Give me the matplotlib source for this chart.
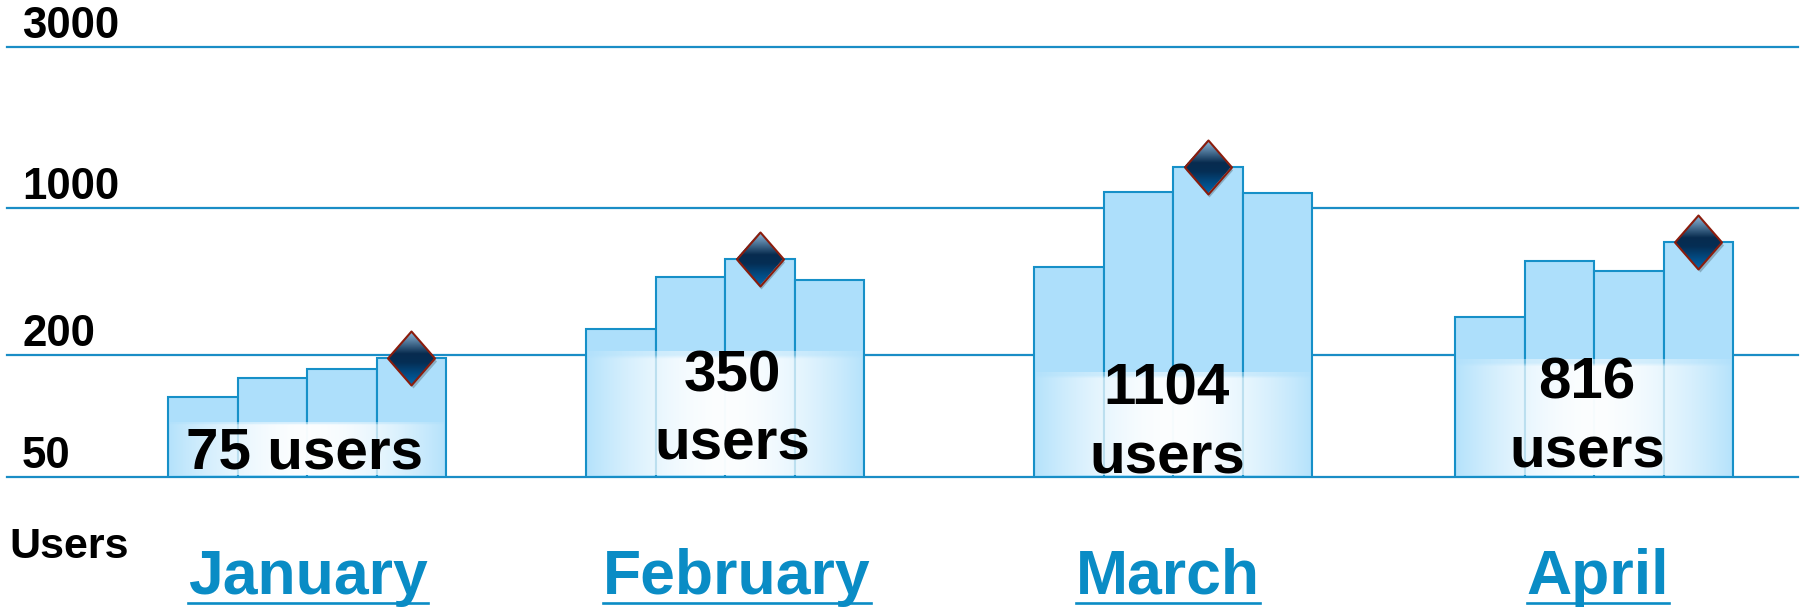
import numpy as np
import matplotlib
matplotlib.use('Agg')
import matplotlib.pyplot as plt
from matplotlib.path import Path
from matplotlib.offsetbox import OffsetImage, AnnotationBbox
from matplotlib.lines import Line2D
from matplotlib.transforms import IdentityTransform, offset_copy

# ---------------- data ----------------
months = ['January', 'February', 'March', 'April']
week1 = [124, 266, 524, 303]
week2 = [154, 470, 1115, 560]
week3 = [171, 572, 1323, 502]
week4 = [193, 455, 1107, 689]
totals = ['75 users', '350\nusers', '1104\nusers', '816\nusers']
yticks = [50, 200, 1000, 3000]
axis_label = 'Users'

# ---------------- layout / style ----------------
W, H, DPI = 1802, 610, 100
group_x = [307, 725, 1173, 1594]       # horizontal slot centres (axis units)
month_dx = [1, 12, -5, 4]              # small offsets of the month captions
total_dx = [-3, 7, -6, -7]             # small offsets of the totals
bar_w = 69.5
tick_pos = [0, 122, 269, 430]          # spacing of the value axis ticks
glow_top = [0.128, 0.293, 0.244, 0.274]
label_y = [0.019, 0.040, 0.009, 0.023]  # last-line baseline (axes fraction)

LINE_COL = '#1a8dc6'
BAR_FILL = '#addffb'
BAR_EDGE = '#1690c8'
MONTH_COL = '#0a8cc5'

plt.rcParams['font.family'] = ['Liberation Sans', 'DejaVu Sans']

fig = plt.figure(figsize=(W / DPI, H / DPI), dpi=DPI)
ax = fig.add_axes([7 / W, (H - 477) / H, 1791 / W, 430 / H])

logt = np.log10(yticks)
tp = np.array(tick_pos, float)


def _pw(x, xs, ys):
    x = np.asarray(x, float)
    y = np.interp(x, xs, ys)
    lo = x < xs[0]
    hi = x > xs[-1]
    s0 = (ys[1] - ys[0]) / (xs[1] - xs[0])
    s1 = (ys[-1] - ys[-2]) / (xs[-1] - xs[-2])
    y = np.where(lo, ys[0] + (x - xs[0]) * s0, y)
    y = np.where(hi, ys[-1] + (x - xs[-1]) * s1, y)
    return y


def fwd(v):
    v = np.asarray(v, float)
    with np.errstate(divide='ignore', invalid='ignore'):
        lv = np.log10(np.clip(v, 1e-6, None))
    return _pw(lv, logt, tp)


def inv(p):
    return 10 ** _pw(p, tp, logt)


ax.set_yscale('function', functions=(fwd, inv))
ax.set_xlim(7, 1798)
ax.set_ylim(yticks[0], yticks[-1])
ax.set_autoscale_on(False)
ax.axis('off')

# gridlines
for t in yticks:
    ax.axhline(t, color=LINE_COL, lw=1.6, zorder=1, clip_on=False)
    ax.annotate(str(t), xy=(0, t), xycoords=ax.get_yaxis_transform(),
                xytext=(15, 9), textcoords='offset pixels',
                fontsize=31.5, fontweight='bold', ha='left', va='baseline',
                color='black', annotation_clip=False)

weeks = np.array([week1, week2, week3, week4], float)
gx = np.array(group_x, float)
for w in range(4):
    xs = gx + (w - 1.5) * bar_w
    ax.bar(xs, weeks[w] - yticks[0], bottom=yticks[0], width=bar_w,
           color=BAR_FILL, edgecolor=BAR_EDGE, linewidth=1.5, zorder=2)

# glow behind the totals
ncol, nrow = 256, 64
tt = np.linspace(-1, 1, ncol)
alpha_x = 0.12 + 0.85 * (1 - np.abs(tt) ** 1.8)
glow = np.ones((nrow, ncol, 4))
fade_y = np.clip(np.linspace(0, 1, nrow) / 0.06, 0.55, 1.0)
glow[..., 3] = alpha_x[None, :] * fade_y[:, None]
for i in range(4):
    x0 = gx[i] - 2 * bar_w + 2
    x1 = gx[i] + 2 * bar_w - 2
    ax.imshow(glow, extent=(x0, x1, 0.004, glow_top[i]),
              transform=ax.get_xaxis_transform(), aspect='auto',
              interpolation='bilinear', zorder=3)

# totals text
for i in range(4):
    ax.text(gx[i] + total_dx[i], label_y[i], totals[i],
            transform=ax.get_xaxis_transform(),
            ha='center', va='baseline', fontsize=42, fontweight='bold',
            linespacing=1.34, multialignment='center', zorder=6)

# diamond markers on the peak week of each month
hw_px, hh_px, ss = 47, 54, 4
Hs, Ws = hh_px * ss, hw_px * ss
yy, xx = np.mgrid[0:Hs, 0:Ws]
u = (xx + 0.5) / Ws * 2 - 1
v = (yy + 0.5) / Hs * 2 - 1
inside = (np.abs(u) + np.abs(v) <= 1).astype(float)
tpos = (yy + 0.5) / Hs
stops = [0.0, 0.42, 0.58, 1.0]
cols = np.array([[0.58, 0.75, 0.88], [0.03, 0.17, 0.31],
                 [0.02, 0.18, 0.33], [0.0, 0.40, 0.68]])
rgb = np.stack([np.interp(tpos, stops, cols[:, c]) for c in range(3)], -1)
img_hi = np.concatenate([rgb * inside[..., None], inside[..., None]], -1)
img = img_hi.reshape(hh_px, ss, hw_px, ss, 4).mean(axis=(1, 3))
a = img[..., 3:4]
img[..., :3] = np.where(a > 0, img[..., :3] / np.maximum(a, 1e-9), 0)

ratio = hw_px / hh_px
dverts = [(0, 1), (ratio, 0), (0, -1), (-ratio, 0), (0, 1)]
dpath = Path(dverts, [Path.MOVETO, Path.LINETO, Path.LINETO, Path.LINETO, Path.CLOSEPOLY])
msize = hh_px * 72 / DPI

peak = weeks.argmax(axis=0)
shadow_tr = offset_copy(ax.transData, fig=fig, x=1.5, y=-3, units='dots')
for i in range(4):
    px = gx[i] + (peak[i] - 1.5) * bar_w
    py = weeks[peak[i], i]
    ax.plot([px], [py], marker=dpath, markersize=msize, color='none',
            mfc='#000000', mec='none', alpha=0.22, zorder=6, transform=shadow_tr)
    ab = AnnotationBbox(OffsetImage(img, zoom=72 / DPI, interpolation='bilinear'),
                        (px, py), xycoords='data', frameon=False, pad=0,
                        box_alignment=(0.5, 0.5), zorder=7)
    ax.add_artist(ab)
    ax.plot([px], [py], marker=dpath, markersize=msize, color='none',
            mfc='none', mec='#8b1c0c', mew=1.5, zorder=8)

# month labels
mtexts = []
for i in range(4):
    t = ax.text(gx[i] + month_dx[i], (477 - 594) / 430, months[i],
                transform=ax.get_xaxis_transform(),
                ha='center', va='baseline', fontsize=45, fontweight='bold',
                color=MONTH_COL, clip_on=False)
    mtexts.append(t)

fig.text(9 / W, (H - 558) / H, axis_label, fontsize=31, fontweight='bold',
         ha='left', va='baseline')

fig.canvas.draw()
for t in mtexts:
    bb = t.get_window_extent()
    yl = H - 603
    fig.add_artist(Line2D([bb.x0, bb.x1], [yl, yl], transform=IdentityTransform(),
                          color=MONTH_COL, lw=1.9))

fig.savefig('out.png', dpi=DPI)
